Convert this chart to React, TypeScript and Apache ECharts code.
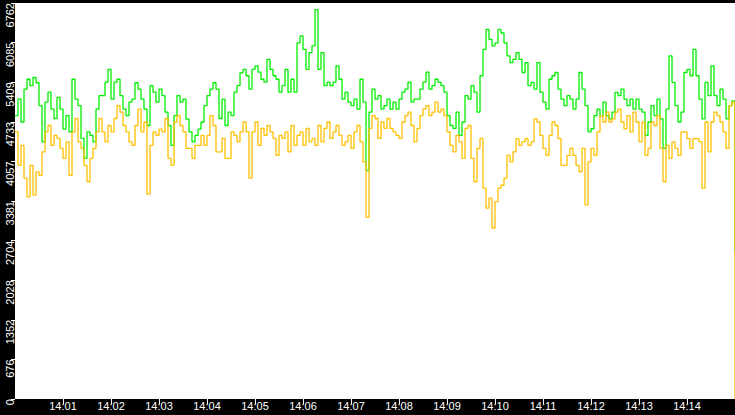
import { useEffect, useRef } from 'react'
import * as echarts from 'echarts'

// one sample every 3.75 s, 14:00:00 .. 14:15:00
const STEP_SEC = 3.75
const X_MAX = 900
const X_TICKS = [60, 120, 180, 240, 300, 360, 420, 480, 540, 600, 660, 720, 780, 840]
const X_LABELS = ['14:01', '14:02', '14:03', '14:04', '14:05', '14:06', '14:07', '14:08', '14:09', '14:10', '14:11', '14:12', '14:13', '14:14']
const Y_MAX = 6762
const Y_STEP = 676.2

const greenVals = [
  4840, 5124, 4730, 5290, 5460, 5350, 5490, 5400, 5010, 4390, 5070, 5240, 4950, 4790, 5150, 4950, 4610, 4840, 4560, 5460,
  5120, 5010, 4450, 4110, 4560, 4500, 4390, 4950, 5180, 5180, 5410, 5630, 5120, 5410, 5460, 5180, 4950, 4840, 5070, 5120,
  5400, 5290, 5120, 4950, 4670, 5350, 5240, 5070, 5290, 5180, 4900, 4670, 4330, 4840, 5180, 5070, 5120, 4780, 4560, 4390,
  4500, 4610, 4730, 5010, 5180, 5290, 5400, 5290, 4790, 5120, 4670, 4900, 4840, 5240, 5350, 5570, 5630, 5520, 5290, 5630,
  5690, 5580, 5460, 5410, 5800, 5630, 5520, 5460, 5240, 5350, 5630, 5240, 5460, 5240, 6080, 6200, 5970, 5630, 5915, 6030,
  6650, 5630, 5915, 5350, 5410, 5350, 5410, 5690, 5460, 5120, 5240, 5070, 5010, 5120, 4950, 5460, 5070, 3900, 4900, 5290,
  5120, 5180, 4950, 5010, 5120, 4950, 5070, 4950, 5120, 5240, 5290, 5410, 5070, 5120, 5120, 5290, 5410, 5580, 5290, 5350,
  5460, 5410, 5350, 5240, 4840, 4670, 4620, 4900, 4500, 4730, 5180, 5120, 5350, 5240, 4900, 5520, 5970, 6310, 6140, 6030,
  6080, 6310, 6250, 6080, 5860, 5745, 5800, 5915, 5800, 5575, 5745, 5350, 5405, 5290, 5745, 5240, 5070, 4950, 5460, 5520,
  5575, 5290, 5120, 5010, 5180, 5120, 4950, 5120, 5575, 5290, 5010, 4560, 4615, 4840, 4950, 4840, 5070, 4840, 4785, 4900,
  5235, 5180, 5290, 5120, 5010, 5120, 4950, 5120, 4950, 4900, 4500, 4730, 5010, 4840, 5120, 4785, 4280, 4950, 5858, 5405,
  5010, 4730, 4900, 5575, 5630, 5520, 5970, 5520, 5120, 4785, 5405, 5180, 5690, 5180, 5010, 5290, 5120, 4785, 5010, 5090,
  2500,
]

const orangeVals = [
  4560, 3990, 4330, 3770, 3450, 3990, 3480, 3880, 3820, 4220, 4560, 4670, 4330, 4500, 4450, 4280, 4110, 4390, 3820, 4560,
  4790, 4390, 4280, 3990, 3710, 4110, 4280, 4560, 4790, 4560, 4390, 4670, 4560, 4790, 5010, 4900, 4670, 4560, 4390, 4330,
  4670, 4950, 4560, 4730, 3500, 4330, 4560, 4500, 4610, 4560, 4790, 4110, 3990, 4730, 4840, 4670, 4560, 4280, 4280, 4110,
  4330, 4330, 4500, 4330, 4500, 4840, 4670, 4220, 4220, 4450, 4110, 4110, 4560, 4500, 4390, 4560, 4730, 4560, 3770, 4560,
  4730, 4330, 4620, 4500, 4670, 4560, 4450, 4160, 4500, 4450, 4560, 4220, 4670, 4330, 4500, 4560, 4330, 4620, 4390, 4450,
  4330, 4670, 4390, 4620, 4730, 4450, 4560, 4670, 4500, 4330, 4390, 4500, 4280, 4560, 4670, 4390, 4050, 3100, 4620, 4840,
  4790, 4450, 4730, 4620, 4790, 4620, 4560, 4500, 4450, 4730, 4840, 4900, 4670, 4390, 4620, 4840, 4950, 5010, 4840, 4900,
  5070, 4900, 4950, 4840, 4560, 4330, 4220, 4500, 4390, 4110, 4620, 4670, 4110, 3710, 4280, 4450, 3600, 3260, 3430, 2920,
  3370, 3600, 3650, 3770, 4160, 4050, 4220, 4445, 4330, 4390, 4445, 4330, 4390, 4785, 4730, 4500, 4280, 4160, 4500, 4730,
  4670, 4445, 3990, 3990, 4160, 4280, 4160, 3990, 3880, 4280, 3315, 4050, 4280, 4160, 4560, 4840, 4730, 4900, 4730, 4785,
  4900, 4950, 4730, 4615, 4840, 4560, 4900, 4730, 4390, 4730, 4160, 4280, 4730, 4670, 4840, 4280, 3710, 4330, 4110, 4390,
  4280, 4160, 4560, 4560, 4445, 4280, 4445, 4445, 4390, 3600, 4730, 4220, 4730, 4900, 4840, 4730, 4560, 4280, 5010, 5070,
  0,
]

const toPoints = (vals: number[]) => vals.map((v, i) => [Math.min(i * STEP_SEC, X_MAX), v])

export default function App() {
  const ref = useRef<HTMLDivElement>(null)

  useEffect(() => {
    if (!ref.current) return
    const chart = echarts.init(ref.current, null, { renderer: 'svg' })
    const font = 'Liberation Sans'
    chart.setOption({
      animation: false,
      backgroundColor: '#000',
      grid: { left: 15, right: 0, top: 0, bottom: 16, show: true, backgroundColor: '#fff', borderWidth: 0 },
      xAxis: {
        type: 'value', min: 0, max: X_MAX,
        axisLine: { show: false }, splitLine: { show: false },
        axisTick: { show: true, length: 5, lineStyle: { color: '#fff' }, customValues: X_TICKS },
        axisLabel: {
          color: '#fff', fontSize: 11, fontFamily: font, margin: 1, customValues: X_TICKS,
          formatter: (v: number) => X_LABELS[Math.round(v / 60) - 1] ?? '',
        },
      },
      yAxis: {
        type: 'value', min: 0, max: Y_MAX, interval: Y_STEP,
        axisLine: { show: false }, splitLine: { show: false },
        axisTick: { show: true, length: 4, lineStyle: { color: '#fff' } },
        axisLabel: {
          color: '#fff', fontSize: 11, fontFamily: font, rotate: 90, align: 'right', margin: 0,
          formatter: (v: number) => String(Math.floor(v + 1e-6)),
        },
      },
      series: [
        { type: 'line', data: toPoints(greenVals), step: 'end', symbol: 'none', lineStyle: { color: '#00f000', width: 1.3 } },
        { type: 'line', data: toPoints(orangeVals), step: 'end', symbol: 'none', lineStyle: { color: '#ffc000', width: 1.3 } },
      ],
    })
    return () => chart.dispose()
  }, [])

  return <div ref={ref} style={{ position: 'fixed', left: 0, top: 0, width: 735, height: 415 }} />
}
